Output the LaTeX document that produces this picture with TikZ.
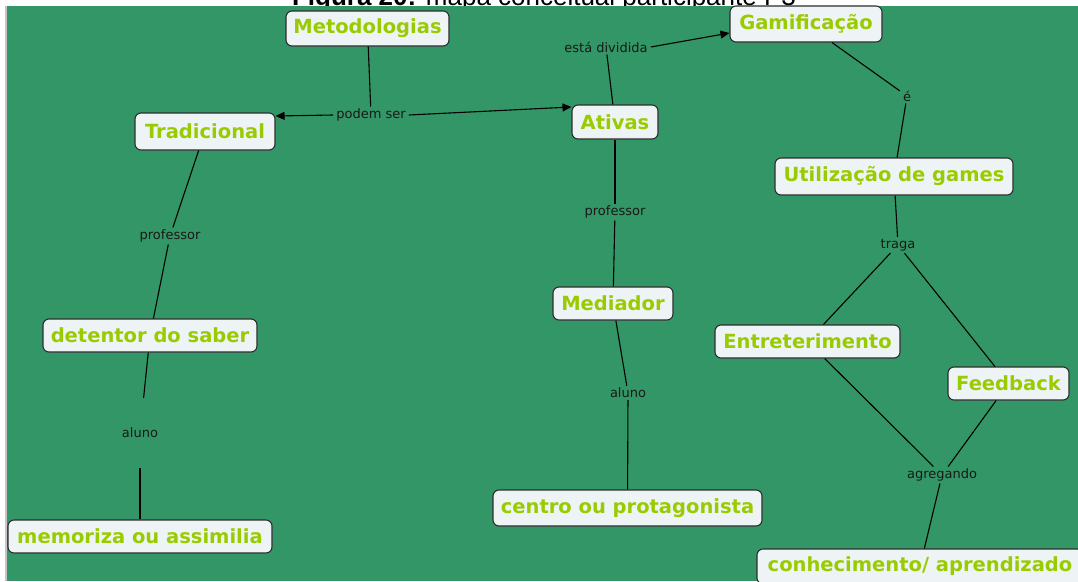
\documentclass[tikz,border=0pt]{standalone}
\usepackage{fontspec}
\setmainfont{DejaVu Sans}
\newfontfamily\capfont{Liberation Sans}
\usetikzlibrary{arrows.meta}
\definecolor{bg}{RGB}{51,150,102}
\definecolor{cfill}{RGB}{238,243,245}
\definecolor{cborder}{RGB}{45,45,45}
\definecolor{ctext}{RGB}{153,204,0}
\definecolor{ltext}{RGB}{25,25,25}
\begin{document}
\begin{tikzpicture}[x=1pt,y=-1pt,
  concept/.style={draw=cborder, fill=cfill, line width=1.1pt, rounded corners=6pt,
    text=ctext, font=\fontsize{19.5}{22}\selectfont\bfseries, inner sep=0pt},
  lbl/.style={text=ltext, font=\fontsize{13}{15}\selectfont, inner xsep=3pt, inner ysep=2pt},
  conn/.style={draw=black, line width=1.1pt},
  arr/.style={conn, -{Triangle[length=9pt,width=8pt]}}]
\useasboundingbox (0,0) rectangle (1078,581);
\clip (0,0) rectangle (1078,581);
\fill[white] (0,0) rectangle (1078,581);
\node[anchor=base, font=\capfont\fontsize{26}{30}\selectfont, inner sep=0pt] (cap) at (544,5.5)
  {\textbf{Figura 20:} mapa conceitual participante P3};
\fill[bg] (7,5.5) rectangle (1078,581);
\fill[gray!45] (5,5.5) rectangle (7,581);

% concepts
\node[concept, minimum width=163pt, minimum height=35pt] (metod) at (367.5,28.5) {Metodologias};
\node[concept, minimum width=152pt, minimum height=36pt] (gamif) at (806,24) {Gamificação};
\node[concept, minimum width=140pt, minimum height=37pt] (trad) at (205,131.5) {Tradicional};
\node[concept, minimum width=86pt, minimum height=34pt] (ativas) at (615,122) {Ativas};
\node[concept, minimum width=238pt, minimum height=37pt] (util) at (894,176.5) {Utilização de games};
\node[concept, minimum width=214pt, minimum height=33pt] (deten) at (150,335.5) {detentor do saber};
\node[concept, minimum width=120pt, minimum height=33pt] (medi) at (613,303.5) {Mediador};
\node[concept, minimum width=185pt, minimum height=33pt] (entre) at (807.5,341.5) {Entreterimento};
\node[concept, minimum width=121pt, minimum height=33pt] (feed) at (1008.5,383.5) {Feedback};
\node[concept, minimum width=269pt, minimum height=36pt] (centro) at (627.5,508) {centro ou protagonista};
\node[concept, minimum width=264pt, minimum height=33pt] (memo) at (140,536.5) {memoriza ou assimilia};
\node[concept, minimum width=326pt, minimum height=35pt] (conhe) at (920,566.5) {conhecimento/ aprendizado};

% linking phrases
\node[lbl] (podem) at (371,115) {podem ser};
\node[lbl] (divid) at (606,47) {está dividida};
\node[lbl] (e) at (907,96) {é};
\node[lbl] (traga) at (898,245) {traga};
\node[lbl] (prof1) at (170,236) {professor};
\node[lbl, minimum height=70pt] (aluno1) at (140,433) {aluno};
\node[lbl] (prof2) at (615,212) {professor};
\node[lbl] (aluno2) at (628,393) {aluno};
\node[lbl] (agreg) at (942,475) {agregando};

% connectors
\draw[conn] (metod) -- (podem);
\draw[arr] (podem.west) -- ([yshift=15.5pt]trad.east);
\draw[arr] (podem.east) -- ([yshift=15pt]ativas.west);
\draw[conn] (ativas) -- (divid);
\draw[arr] (divid.east) -- ([yshift=-9pt]gamif.west);
\draw[conn] (gamif) -- (e);
\draw[conn] (e) -- (util);
\draw[conn] (util) -- (traga);
\draw[conn] (traga) -- (entre);
\draw[conn] (traga) -- (feed);
\draw[conn] (entre) -- (agreg);
\draw[conn] (feed) -- (agreg);
\draw[conn] (agreg) -- (conhe);
\draw[conn] (trad) -- (prof1);
\draw[conn] (prof1) -- (deten);
\draw[conn] (deten) -- (aluno1);
\draw[conn] (aluno1) -- (memo);
\draw[conn] (ativas) -- (prof2);
\draw[conn] (prof2) -- (medi);
\draw[conn] (medi) -- (aluno2);
\draw[conn] (aluno2) -- (centro);
\end{tikzpicture}
\end{document}
